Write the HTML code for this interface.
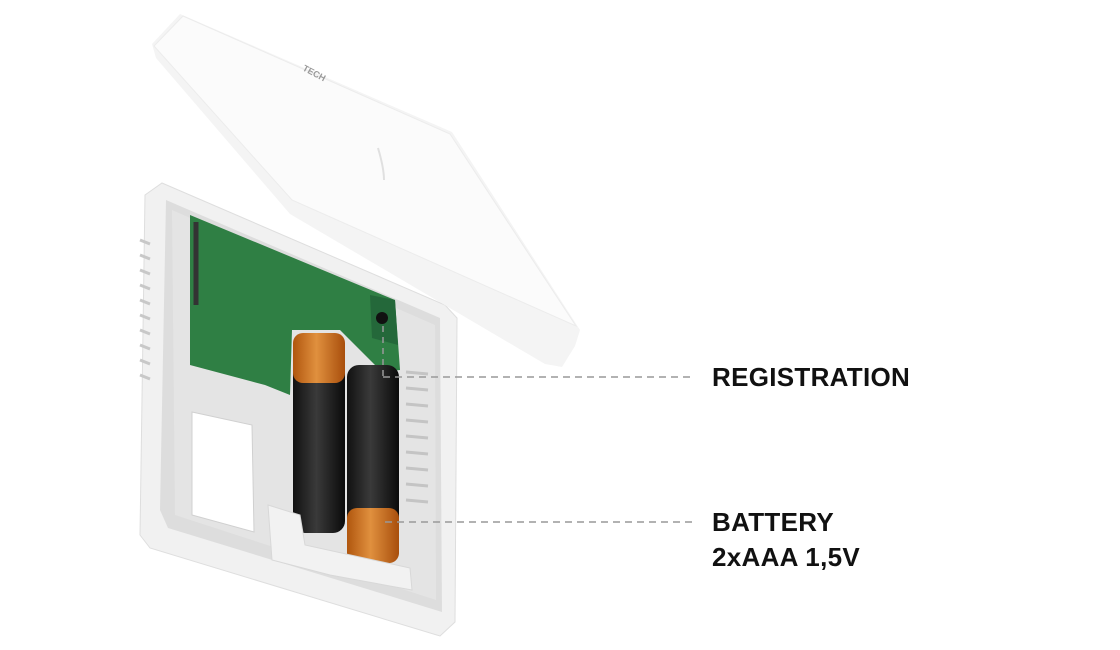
<!DOCTYPE html>
<html><head><meta charset="utf-8"><style>
html,body{margin:0;padding:0;background:#fff;width:1120px;height:650px;overflow:hidden}
.t{position:absolute;font-family:"Liberation Sans",sans-serif;font-weight:bold;font-size:26px;color:#111;letter-spacing:0.3px;line-height:35px}
</style></head><body>
<svg width="1120" height="650" style="position:absolute;left:0;top:0">
<defs>
<linearGradient id="bat" x1="0" x2="1"><stop offset="0" stop-color="#111"/><stop offset="0.45" stop-color="#3a3a3a"/><stop offset="1" stop-color="#0a0a0a"/></linearGradient>
<linearGradient id="or" x1="0" x2="1"><stop offset="0" stop-color="#b0560e"/><stop offset="0.45" stop-color="#e0903e"/><stop offset="1" stop-color="#a84e0c"/></linearGradient>
</defs>
<!-- base outer frame -->
<polygon points="162,183 445,305 457,318 455,622 440,636 150,548 140,535 145,195" fill="#f1f1f1" stroke="#dedede"/>
<polygon points="166,200 440,318 442,612 168,528 160,510" fill="#dddddd"/>
<polygon points="172,210 435,325 436,600 175,515" fill="#e4e4e4"/>
<polygon points="192,412 252,425 254,532 192,515" fill="#fff" stroke="#d0d0d0"/>
<g stroke="#c8c8c8" stroke-width="3">
<line x1="140" y1="240" x2="150" y2="244"/><line x1="140" y1="255" x2="150" y2="259"/><line x1="140" y1="270" x2="150" y2="274"/><line x1="140" y1="285" x2="150" y2="289"/><line x1="140" y1="300" x2="150" y2="304"/><line x1="140" y1="315" x2="150" y2="319"/><line x1="140" y1="330" x2="150" y2="334"/><line x1="140" y1="345" x2="150" y2="349"/><line x1="140" y1="360" x2="150" y2="364"/><line x1="140" y1="375" x2="150" y2="379"/>
</g>
<g stroke="#c4c4c4" stroke-width="3">
<line x1="406" y1="372" x2="428" y2="374"/><line x1="406" y1="388" x2="428" y2="390"/><line x1="406" y1="404" x2="428" y2="406"/><line x1="406" y1="420" x2="428" y2="422"/><line x1="406" y1="436" x2="428" y2="438"/><line x1="406" y1="452" x2="428" y2="454"/><line x1="406" y1="468" x2="428" y2="470"/><line x1="406" y1="484" x2="428" y2="486"/><line x1="406" y1="500" x2="428" y2="502"/>
</g>
<!-- pcb -->
<polygon points="190,215 395,300 400,370 382,372 340,330 292,330 290,395 265,385 190,365" fill="#2f7f44"/>
<line x1="196" y1="222" x2="196" y2="305" stroke="#333" stroke-width="5"/>
<polygon points="370,295 395,300 398,345 372,338" fill="#24683a"/>
<circle cx="382" cy="318" r="6" fill="#111"/>
<!-- batteries -->
<rect x="293" y="335" width="52" height="198" rx="12" fill="url(#bat)"/>
<rect x="293" y="333" width="52" height="50" rx="10" fill="url(#or)"/>
<rect x="347" y="365" width="52" height="198" rx="12" fill="url(#bat)"/>
<rect x="347" y="508" width="52" height="55" rx="10" fill="url(#or)"/>
<polygon points="268,505 300,515 305,545 410,568 412,590 330,575 272,560" fill="#f2f2f2" stroke="#d8d8d8"/>
<!-- lid -->
<polygon points="180,14 452,132 580,330 575,346 562,367 545,364 290,214 156,58 152,44" fill="#f4f4f4"/>
<polygon points="183,16 450,134 576,326 292,200 154,46" fill="#fbfbfb" stroke="#ececec"/>
<path d="M378,148 q6,20 6,32" stroke="#e0e0e0" stroke-width="2" fill="none"/>
<text x="302" y="70" font-family="Liberation Sans" font-size="9" font-weight="bold" fill="#999" transform="rotate(28 302 70)">TECH</text>
<!-- dashed -->
<line x1="383" y1="326" x2="383" y2="377" stroke="#999" stroke-width="1.5" stroke-dasharray="6,5"/>
<line x1="383" y1="377" x2="695" y2="377" stroke="#999" stroke-width="1.5" stroke-dasharray="7,5"/>
<line x1="385" y1="522" x2="695" y2="522" stroke="#999" stroke-width="1.5" stroke-dasharray="7,5"/>
</svg>
<div class="t" style="left:712px;top:360px">REGISTRATION</div>
<div class="t" style="left:712px;top:505px">BATTERY<br>2xAAA 1,5V</div>
</body></html>
